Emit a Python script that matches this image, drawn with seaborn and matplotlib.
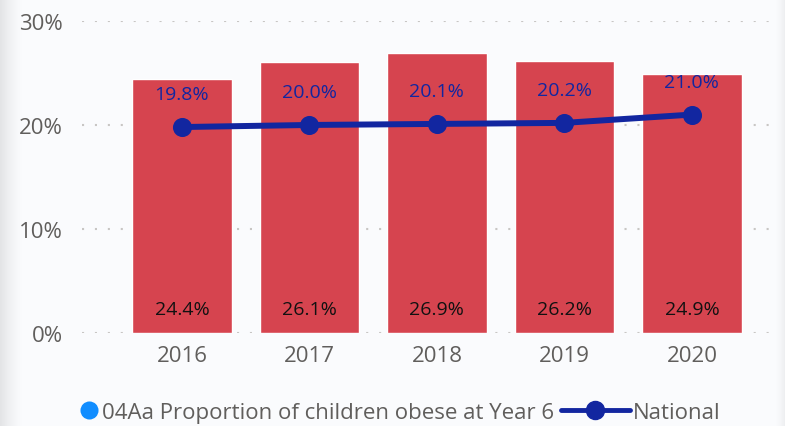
import numpy as np
import pandas as pd
import matplotlib
matplotlib.use("Agg")
import matplotlib.pyplot as plt
from matplotlib.lines import Line2D
import seaborn as sns

years = ["2016", "2017", "2018", "2019", "2020"]
local_obese = [24.4, 26.1, 26.9, 26.2, 24.9]
national_obese = [19.8, 20.0, 20.1, 20.2, 21.0]
y_ticks = [0, 10, 20, 30]
y_tick_labels = ["0%", "10%", "20%", "30%"]
bar_series_name = "04Aa Proportion of children obese at Year 6"
line_series_name = "National"

BAR_COLOR = "#d6444f"
LINE_COLOR = "#1226a0"
LEGEND_DOT = "#118dff"
TEXT_GREY = "#605e5c"
BG = "#fafbfd"

sns.set_theme(style="white")
plt.rcParams["font.family"] = ["Open Sans", "DejaVu Sans"]

df = pd.DataFrame({"year": years, "local": local_obese, "national": national_obese})

fig = plt.figure(figsize=(7.85, 4.27), dpi=100, facecolor=BG)

# soft shaded edges on the left and right of the canvas
bg_ax = fig.add_axes([0, 0, 1, 1], zorder=-10)
bg_ax.set_axis_off()
w = 785
shade = np.zeros(w)
left = np.arange(22)
shade[:22] = (1 - left / 22.0) ** 1.5
right = np.arange(10)
shade[-10:] = (right / 10.0) ** 1.5 * 0.6
base = np.array(matplotlib.colors.to_rgb(BG))
edge = np.array(matplotlib.colors.to_rgb("#e3e4e6"))
row = base[None, :] * (1 - shade[:, None]) + edge[None, :] * shade[:, None]
bg_ax.imshow(np.repeat(row[None, :, :], 2, axis=0), aspect="auto", extent=[0, 1, 0, 1])
bg_ax.set_xlim(0, 1)
bg_ax.set_ylim(0, 1)

ax = fig.add_axes([0.1045, 0.218, 0.8865, 0.7305])
ax.set_facecolor("none")

sns.barplot(data=df, x="year", y="local", color=BAR_COLOR, saturation=1,
            width=0.78, ax=ax, zorder=2)
sns.pointplot(data=df, x="year", y="national", color=LINE_COLOR, markers="o",
              linestyles="-", markersize=10.5, linewidth=4.3, ax=ax, zorder=4)

for i, v in enumerate(local_obese):
    ax.annotate(f"{v:.1f}%", xy=(i, 0), xytext=(0, 17), textcoords="offset points",
                ha="center", va="center", fontsize=14, color="#111111", zorder=5)
for i, v in enumerate(national_obese):
    ax.annotate(f"{v:.1f}%", xy=(i, v), xytext=(0, 23.5), textcoords="offset points",
                ha="center", va="center", fontsize=14, color=LINE_COLOR, zorder=5)

ax.set_ylim(0, 30)
ax.set_xlim(-0.784, 4.675)
ax.set_yticks(y_ticks)
ax.set_yticklabels(y_tick_labels)
ax.set_xlabel("")
ax.set_ylabel("")
ax.tick_params(axis="y", length=0, pad=14, labelsize=16, labelcolor=TEXT_GREY)
ax.tick_params(axis="x", length=0, pad=9, labelsize=16, labelcolor=TEXT_GREY)
for s in ax.spines.values():
    s.set_visible(False)
ax.yaxis.grid(True, color="#c8c6c4", linestyle=(0, (1, 5.2)), linewidth=1.5, zorder=0)
ax.set_axisbelow(True)


class RightDotHandler:
    """Legend handler that draws a filled dot at the right end of the handle box."""

    def legend_artist(self, legend, orig_handle, fontsize, handlebox):
        w, h = handlebox.width, handlebox.height
        r = 6.5
        dot = Line2D([w - r - 0.5], [h / 2 - handlebox.ydescent], linestyle="none",
                     marker="o", markersize=2 * r, color=orig_handle.get_color(),
                     markeredgewidth=0)
        handlebox.add_artist(dot)
        return dot


dot_handle = Line2D([], [], linestyle="none", marker="o", color=LEGEND_DOT)
line_handle = Line2D([], [], color=LINE_COLOR, linewidth=3.5, marker="o", markersize=13)
fig.legend([dot_handle, line_handle], [bar_series_name, line_series_name], loc="center",
           bbox_to_anchor=(0.478, 0.031), ncol=2, frameon=False, fontsize=16,
           labelcolor=TEXT_GREY, handlelength=3.1, handletextpad=0.15,
           columnspacing=0.3, handler_map={dot_handle: RightDotHandler()})
ax.legend_ = None

fig.savefig("out.png", dpi=100, facecolor=BG)
